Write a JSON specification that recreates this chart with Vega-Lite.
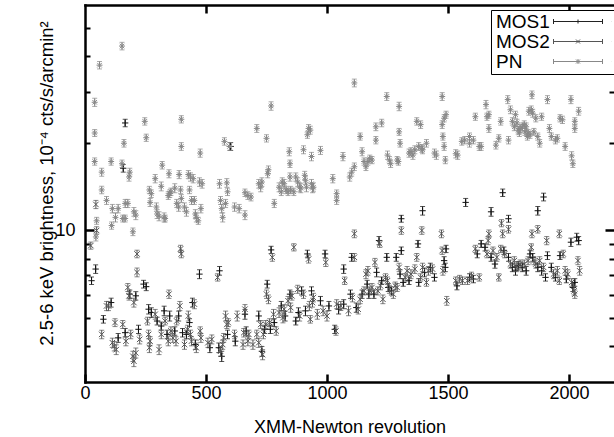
{
"$schema":"https://vega.github.io/schema/vega-lite/v6.json",
"width":529,"height":377,
"autosize":{"type":"none"},
"padding":{"left":85,"top":5,"right":0,"bottom":55},
"background":"white",
"config":{
 "view":{"stroke":null},
 "font":"Liberation Sans",
 "axis":{"grid":false,"labelFont":"Liberation Sans","labelFontSize":18,"labelColor":"black","titleFont":"Liberation Sans","titleFontSize":18,"titleFontWeight":"normal","titleColor":"black","tickColor":"black","domainColor":"black","domainWidth":2.5,"domainCap":"square","tickWidth":2,"labelFlush":false}
},
"data":{"values":[
{"s":"MOS1","x":27,"y":6.71,"e":0.2},{"s":"MOS1","x":44,"y":7.36,"e":0.25},{"s":"MOS1","x":166,"y":23.5,"e":0.7},{"s":"MOS1","x":158,"y":16.4,"e":0.5},{"s":"MOS1","x":602,"y":19.5,"e":0.6},{"s":"MOS1","x":76,"y":4.94,"e":0.15},{"s":"MOS1","x":108,"y":5.64,"e":0.2},{"s":"MOS1","x":137,"y":4.26,"e":0.15},{"s":"MOS1","x":166,"y":4.44,"e":0.15},{"s":"MOS1","x":185,"y":6.03,"e":0.2},{"s":"MOS1","x":210,"y":5.95,"e":0.2},{"s":"MOS1","x":221,"y":4.56,"e":0.15},{"s":"MOS1","x":242,"y":6.53,"e":0.2},{"s":"MOS1","x":253,"y":6.4,"e":0.2},{"s":"MOS1","x":263,"y":5.35,"e":0.2},{"s":"MOS1","x":274,"y":5.21,"e":0.2},{"s":"MOS1","x":298,"y":4.87,"e":0.15},{"s":"MOS1","x":315,"y":4.68,"e":0.15},{"s":"MOS1","x":327,"y":5.28,"e":0.2},{"s":"MOS1","x":339,"y":4.38,"e":0.15},{"s":"MOS1","x":350,"y":5.07,"e":0.2},{"s":"MOS1","x":371,"y":4.5,"e":0.15},{"s":"MOS1","x":387,"y":5.07,"e":0.2},{"s":"MOS1","x":403,"y":4.44,"e":0.15},{"s":"MOS1","x":419,"y":4.38,"e":0.15},{"s":"MOS1","x":432,"y":4.81,"e":0.15},{"s":"MOS1","x":444,"y":5.64,"e":0.2},{"s":"MOS1","x":456,"y":4.04,"e":0.15},{"s":"MOS1","x":473,"y":7.07,"e":0.25},{"s":"MOS1","x":516,"y":3.94,"e":0.15},{"s":"MOS1","x":553,"y":3.94,"e":0.15},{"s":"MOS1","x":556,"y":7.26,"e":0.25},{"s":"MOS1","x":565,"y":3.68,"e":0.15},{"s":"MOS1","x":589,"y":4.38,"e":0.15},{"s":"MOS1","x":621,"y":4.15,"e":0.15},{"s":"MOS1","x":661,"y":5.14,"e":0.2},{"s":"MOS1","x":666,"y":4.5,"e":0.15},{"s":"MOS1","x":718,"y":5.07,"e":0.2},{"s":"MOS1","x":731,"y":3.83,"e":0.15},{"s":"MOS1","x":742,"y":4.56,"e":0.15},{"s":"MOS1","x":753,"y":6.53,"e":0.2},{"s":"MOS1","x":766,"y":4.56,"e":0.15},{"s":"MOS1","x":769,"y":8.57,"e":0.25},{"s":"MOS1","x":782,"y":4.81,"e":0.15},{"s":"MOS1","x":811,"y":5.49,"e":0.2},{"s":"MOS1","x":827,"y":5.07,"e":0.2},{"s":"MOS1","x":847,"y":6.03,"e":0.2},{"s":"MOS1","x":871,"y":4.87,"e":0.15},{"s":"MOS1","x":882,"y":5.21,"e":0.2},{"s":"MOS1","x":895,"y":6.19,"e":0.2},{"s":"MOS1","x":911,"y":5.28,"e":0.2},{"s":"MOS1","x":919,"y":8.3,"e":0.25},{"s":"MOS1","x":936,"y":6.19,"e":0.2},{"s":"MOS1","x":973,"y":5.72,"e":0.2},{"s":"MOS1","x":992,"y":8.3,"e":0.25},{"s":"MOS1","x":1008,"y":5.49,"e":0.2},{"s":"MOS1","x":1032,"y":4.56,"e":0.15},{"s":"MOS1","x":1048,"y":5.35,"e":0.2},{"s":"MOS1","x":1069,"y":7.36,"e":0.25},{"s":"MOS1","x":1069,"y":5.57,"e":0.2},{"s":"MOS1","x":1097,"y":6.03,"e":0.2},{"s":"MOS1","x":1102,"y":8.08,"e":0.25},{"s":"MOS1","x":1121,"y":5.42,"e":0.2},{"s":"MOS1","x":1145,"y":6.03,"e":0.2},{"s":"MOS1","x":1166,"y":6.53,"e":0.2},{"s":"MOS1","x":1173,"y":6.03,"e":0.2},{"s":"MOS1","x":1194,"y":6.03,"e":0.2},{"s":"MOS1","x":1205,"y":7.17,"e":0.25},{"s":"MOS1","x":1215,"y":9.23,"e":0.3},{"s":"MOS1","x":1226,"y":6.71,"e":0.2},{"s":"MOS1","x":1247,"y":8.08,"e":0.25},{"s":"MOS1","x":1253,"y":6.36,"e":0.2},{"s":"MOS1","x":1266,"y":6.19,"e":0.2},{"s":"MOS1","x":1286,"y":8.08,"e":0.25},{"s":"MOS1","x":1302,"y":7.07,"e":0.25},{"s":"MOS1","x":1307,"y":8.52,"e":0.25},{"s":"MOS1","x":1307,"y":10.98,"e":0.3},{"s":"MOS1","x":1315,"y":6.62,"e":0.2},{"s":"MOS1","x":1339,"y":6.71,"e":0.2},{"s":"MOS1","x":1376,"y":8.99,"e":0.25},{"s":"MOS1","x":1379,"y":6.62,"e":0.2},{"s":"MOS1","x":1395,"y":11.7,"e":0.4},{"s":"MOS1","x":1403,"y":7.17,"e":0.25},{"s":"MOS1","x":1427,"y":7.46,"e":0.25},{"s":"MOS1","x":1444,"y":6.89,"e":0.2},{"s":"MOS1","x":1484,"y":7.87,"e":0.25},{"s":"MOS1","x":1489,"y":7.46,"e":0.25},{"s":"MOS1","x":1492,"y":8.64,"e":0.25},{"s":"MOS1","x":1537,"y":6.44,"e":0.2},{"s":"MOS1","x":1573,"y":12.5,"e":0.4},{"s":"MOS1","x":1589,"y":6.89,"e":0.2},{"s":"MOS1","x":1605,"y":6.8,"e":0.2},{"s":"MOS1","x":1621,"y":8.3,"e":0.25},{"s":"MOS1","x":1637,"y":8.99,"e":0.25},{"s":"MOS1","x":1653,"y":8.75,"e":0.25},{"s":"MOS1","x":1678,"y":11.6,"e":0.4},{"s":"MOS1","x":1678,"y":8.08,"e":0.25},{"s":"MOS1","x":1694,"y":7.66,"e":0.25},{"s":"MOS1","x":1726,"y":13.5,"e":0.4},{"s":"MOS1","x":1731,"y":8.52,"e":0.25},{"s":"MOS1","x":1750,"y":8.08,"e":0.25},{"s":"MOS1","x":1750,"y":10.98,"e":0.3},{"s":"MOS1","x":1766,"y":7.46,"e":0.25},{"s":"MOS1","x":1779,"y":7.26,"e":0.25},{"s":"MOS1","x":1790,"y":7.56,"e":0.25},{"s":"MOS1","x":1807,"y":7.46,"e":0.25},{"s":"MOS1","x":1823,"y":7.26,"e":0.25},{"s":"MOS1","x":1839,"y":8.3,"e":0.25},{"s":"MOS1","x":1850,"y":8.08,"e":0.25},{"s":"MOS1","x":1871,"y":7.46,"e":0.25},{"s":"MOS1","x":1871,"y":11.7,"e":0.4},{"s":"MOS1","x":1887,"y":7.26,"e":0.25},{"s":"MOS1","x":1895,"y":13.05,"e":0.4},{"s":"MOS1","x":1903,"y":6.89,"e":0.2},{"s":"MOS1","x":1911,"y":8.19,"e":0.25},{"s":"MOS1","x":1927,"y":7.46,"e":0.25},{"s":"MOS1","x":1944,"y":6.89,"e":0.2},{"s":"MOS1","x":1963,"y":8.19,"e":0.25},{"s":"MOS1","x":1989,"y":6.8,"e":0.2},{"s":"MOS1","x":2008,"y":9.11,"e":0.3},{"s":"MOS1","x":2016,"y":6.36,"e":0.2},{"s":"MOS1","x":2024,"y":6.62,"e":0.2},{"s":"MOS1","x":2032,"y":9.48,"e":0.3},{"s":"MOS1","x":2040,"y":9.23,"e":0.3},
{"s":"MOS2","x":24,"y":8.87,"e":0.25},{"s":"MOS2","x":45,"y":12.3,"e":0.4},{"s":"MOS2","x":48,"y":10.0,"e":0.3},{"s":"MOS2","x":69,"y":4.38,"e":0.15},{"s":"MOS2","x":89,"y":5.49,"e":0.2},{"s":"MOS2","x":97,"y":5.49,"e":0.2},{"s":"MOS2","x":113,"y":4.1,"e":0.15},{"s":"MOS2","x":121,"y":3.99,"e":0.15},{"s":"MOS2","x":124,"y":4.81,"e":0.15},{"s":"MOS2","x":129,"y":3.88,"e":0.15},{"s":"MOS2","x":156,"y":4.74,"e":0.15},{"s":"MOS2","x":169,"y":4.15,"e":0.15},{"s":"MOS2","x":177,"y":6.36,"e":0.2},{"s":"MOS2","x":182,"y":5.95,"e":0.2},{"s":"MOS2","x":189,"y":4.38,"e":0.15},{"s":"MOS2","x":198,"y":3.68,"e":0.15},{"s":"MOS2","x":202,"y":3.54,"e":0.15},{"s":"MOS2","x":210,"y":3.78,"e":0.15},{"s":"MOS2","x":202,"y":5.64,"e":0.2},{"s":"MOS2","x":215,"y":8.3,"e":0.25},{"s":"MOS2","x":215,"y":7.17,"e":0.25},{"s":"MOS2","x":226,"y":4.21,"e":0.15},{"s":"MOS2","x":258,"y":4.87,"e":0.15},{"s":"MOS2","x":263,"y":4.38,"e":0.15},{"s":"MOS2","x":266,"y":3.94,"e":0.15},{"s":"MOS2","x":269,"y":4.15,"e":0.15},{"s":"MOS2","x":290,"y":5.14,"e":0.2},{"s":"MOS2","x":306,"y":3.88,"e":0.15},{"s":"MOS2","x":315,"y":4.38,"e":0.15},{"s":"MOS2","x":331,"y":4.87,"e":0.15},{"s":"MOS2","x":344,"y":4.15,"e":0.15},{"s":"MOS2","x":347,"y":6.03,"e":0.2},{"s":"MOS2","x":355,"y":4.5,"e":0.15},{"s":"MOS2","x":363,"y":4.26,"e":0.15},{"s":"MOS2","x":376,"y":4.15,"e":0.15},{"s":"MOS2","x":379,"y":4.87,"e":0.15},{"s":"MOS2","x":392,"y":5.49,"e":0.2},{"s":"MOS2","x":395,"y":8.64,"e":0.25},{"s":"MOS2","x":398,"y":8.3,"e":0.25},{"s":"MOS2","x":411,"y":4.04,"e":0.15},{"s":"MOS2","x":424,"y":4.56,"e":0.15},{"s":"MOS2","x":427,"y":5.07,"e":0.2},{"s":"MOS2","x":436,"y":4.38,"e":0.15},{"s":"MOS2","x":440,"y":4.15,"e":0.15},{"s":"MOS2","x":452,"y":5.57,"e":0.2},{"s":"MOS2","x":460,"y":3.94,"e":0.15},{"s":"MOS2","x":476,"y":4.5,"e":0.15},{"s":"MOS2","x":479,"y":4.26,"e":0.15},{"s":"MOS2","x":508,"y":4.1,"e":0.15},{"s":"MOS2","x":524,"y":4.21,"e":0.15},{"s":"MOS2","x":548,"y":6.89,"e":0.2},{"s":"MOS2","x":560,"y":3.83,"e":0.15},{"s":"MOS2","x":569,"y":4.04,"e":0.15},{"s":"MOS2","x":573,"y":4.26,"e":0.15},{"s":"MOS2","x":581,"y":5.07,"e":0.2},{"s":"MOS2","x":586,"y":4.74,"e":0.15},{"s":"MOS2","x":592,"y":4.81,"e":0.15},{"s":"MOS2","x":618,"y":4.38,"e":0.15},{"s":"MOS2","x":629,"y":5.07,"e":0.2},{"s":"MOS2","x":653,"y":4.04,"e":0.15},{"s":"MOS2","x":656,"y":4.44,"e":0.15},{"s":"MOS2","x":661,"y":5.35,"e":0.2},{"s":"MOS2","x":673,"y":4.15,"e":0.15},{"s":"MOS2","x":677,"y":4.38,"e":0.15},{"s":"MOS2","x":694,"y":4.04,"e":0.15},{"s":"MOS2","x":710,"y":4.38,"e":0.15},{"s":"MOS2","x":718,"y":4.1,"e":0.15},{"s":"MOS2","x":726,"y":4.74,"e":0.15},{"s":"MOS2","x":734,"y":3.73,"e":0.15},{"s":"MOS2","x":737,"y":4.38,"e":0.15},{"s":"MOS2","x":747,"y":4.74,"e":0.15},{"s":"MOS2","x":750,"y":6.03,"e":0.2},{"s":"MOS2","x":758,"y":5.79,"e":0.2},{"s":"MOS2","x":763,"y":4.81,"e":0.15},{"s":"MOS2","x":774,"y":8.08,"e":0.25},{"s":"MOS2","x":779,"y":5.14,"e":0.2},{"s":"MOS2","x":790,"y":4.5,"e":0.15},{"s":"MOS2","x":802,"y":5.21,"e":0.2},{"s":"MOS2","x":818,"y":5.0,"e":0.2},{"s":"MOS2","x":823,"y":5.35,"e":0.2},{"s":"MOS2","x":839,"y":5.72,"e":0.2},{"s":"MOS2","x":850,"y":5.42,"e":0.2},{"s":"MOS2","x":855,"y":5.95,"e":0.2},{"s":"MOS2","x":863,"y":8.75,"e":0.25},{"s":"MOS2","x":879,"y":6.27,"e":0.2},{"s":"MOS2","x":887,"y":5.07,"e":0.2},{"s":"MOS2","x":903,"y":6.03,"e":0.2},{"s":"MOS2","x":924,"y":7.97,"e":0.25},{"s":"MOS2","x":927,"y":5.49,"e":0.2},{"s":"MOS2","x":931,"y":4.94,"e":0.15},{"s":"MOS2","x":940,"y":5.64,"e":0.2},{"s":"MOS2","x":944,"y":5.87,"e":0.2},{"s":"MOS2","x":960,"y":5.14,"e":0.2},{"s":"MOS2","x":984,"y":5.28,"e":0.2},{"s":"MOS2","x":995,"y":7.76,"e":0.25},{"s":"MOS2","x":1000,"y":5.07,"e":0.2},{"s":"MOS2","x":1037,"y":4.5,"e":0.15},{"s":"MOS2","x":1040,"y":5.57,"e":0.2},{"s":"MOS2","x":1057,"y":5.49,"e":0.2},{"s":"MOS2","x":1073,"y":6.71,"e":0.2},{"s":"MOS2","x":1089,"y":5.28,"e":0.2},{"s":"MOS2","x":1105,"y":5.87,"e":0.2},{"s":"MOS2","x":1113,"y":8.08,"e":0.25},{"s":"MOS2","x":1113,"y":9.74,"e":0.3},{"s":"MOS2","x":1129,"y":5.35,"e":0.2},{"s":"MOS2","x":1137,"y":5.79,"e":0.2},{"s":"MOS2","x":1153,"y":6.19,"e":0.2},{"s":"MOS2","x":1161,"y":7.07,"e":0.25},{"s":"MOS2","x":1169,"y":7.26,"e":0.25},{"s":"MOS2","x":1177,"y":6.19,"e":0.2},{"s":"MOS2","x":1186,"y":6.36,"e":0.2},{"s":"MOS2","x":1198,"y":7.76,"e":0.25},{"s":"MOS2","x":1210,"y":6.19,"e":0.2},{"s":"MOS2","x":1218,"y":8.99,"e":0.25},{"s":"MOS2","x":1221,"y":6.44,"e":0.2},{"s":"MOS2","x":1231,"y":5.79,"e":0.2},{"s":"MOS2","x":1242,"y":6.89,"e":0.2},{"s":"MOS2","x":1250,"y":6.71,"e":0.2},{"s":"MOS2","x":1258,"y":6.27,"e":0.2},{"s":"MOS2","x":1274,"y":6.03,"e":0.2},{"s":"MOS2","x":1282,"y":6.44,"e":0.2},{"s":"MOS2","x":1290,"y":6.36,"e":0.2},{"s":"MOS2","x":1298,"y":7.46,"e":0.25},{"s":"MOS2","x":1307,"y":10.0,"e":0.3},{"s":"MOS2","x":1323,"y":6.89,"e":0.2},{"s":"MOS2","x":1331,"y":7.26,"e":0.25},{"s":"MOS2","x":1347,"y":7.07,"e":0.25},{"s":"MOS2","x":1363,"y":7.36,"e":0.25},{"s":"MOS2","x":1371,"y":8.08,"e":0.25},{"s":"MOS2","x":1387,"y":6.89,"e":0.2},{"s":"MOS2","x":1392,"y":10.0,"e":0.3},{"s":"MOS2","x":1395,"y":7.46,"e":0.25},{"s":"MOS2","x":1411,"y":6.62,"e":0.2},{"s":"MOS2","x":1419,"y":7.26,"e":0.25},{"s":"MOS2","x":1436,"y":7.36,"e":0.25},{"s":"MOS2","x":1473,"y":9.74,"e":0.3},{"s":"MOS2","x":1476,"y":8.52,"e":0.25},{"s":"MOS2","x":1479,"y":7.26,"e":0.25},{"s":"MOS2","x":1495,"y":5.72,"e":0.2},{"s":"MOS2","x":1532,"y":6.71,"e":0.2},{"s":"MOS2","x":1548,"y":6.8,"e":0.2},{"s":"MOS2","x":1560,"y":6.71,"e":0.2},{"s":"MOS2","x":1581,"y":6.71,"e":0.2},{"s":"MOS2","x":1597,"y":6.98,"e":0.2},{"s":"MOS2","x":1613,"y":8.64,"e":0.25},{"s":"MOS2","x":1629,"y":6.89,"e":0.2},{"s":"MOS2","x":1661,"y":8.3,"e":0.25},{"s":"MOS2","x":1666,"y":9.23,"e":0.3},{"s":"MOS2","x":1669,"y":9.74,"e":0.3},{"s":"MOS2","x":1686,"y":8.52,"e":0.25},{"s":"MOS2","x":1702,"y":8.08,"e":0.25},{"s":"MOS2","x":1710,"y":6.89,"e":0.2},{"s":"MOS2","x":1718,"y":8.64,"e":0.25},{"s":"MOS2","x":1721,"y":10.6,"e":0.3},{"s":"MOS2","x":1726,"y":9.74,"e":0.3},{"s":"MOS2","x":1734,"y":8.3,"e":0.25},{"s":"MOS2","x":1750,"y":10.1,"e":0.3},{"s":"MOS2","x":1758,"y":7.66,"e":0.25},{"s":"MOS2","x":1774,"y":7.87,"e":0.25},{"s":"MOS2","x":1782,"y":7.46,"e":0.25},{"s":"MOS2","x":1798,"y":7.66,"e":0.25},{"s":"MOS2","x":1815,"y":7.66,"e":0.25},{"s":"MOS2","x":1831,"y":7.87,"e":0.25},{"s":"MOS2","x":1844,"y":8.75,"e":0.25},{"s":"MOS2","x":1847,"y":9.74,"e":0.3},{"s":"MOS2","x":1855,"y":7.87,"e":0.25},{"s":"MOS2","x":1863,"y":7.66,"e":0.25},{"s":"MOS2","x":1871,"y":10.1,"e":0.3},{"s":"MOS2","x":1879,"y":7.87,"e":0.25},{"s":"MOS2","x":1895,"y":7.46,"e":0.25},{"s":"MOS2","x":1908,"y":9.23,"e":0.3},{"s":"MOS2","x":1936,"y":7.07,"e":0.25},{"s":"MOS2","x":1952,"y":7.26,"e":0.25},{"s":"MOS2","x":1960,"y":6.71,"e":0.2},{"s":"MOS2","x":1960,"y":9.74,"e":0.3},{"s":"MOS2","x":1976,"y":8.3,"e":0.25},{"s":"MOS2","x":1984,"y":7.26,"e":0.25},{"s":"MOS2","x":1995,"y":7.07,"e":0.25},{"s":"MOS2","x":2011,"y":6.62,"e":0.2},{"s":"MOS2","x":2021,"y":6.19,"e":0.2},{"s":"MOS2","x":2024,"y":6.03,"e":0.2},{"s":"MOS2","x":2037,"y":7.87,"e":0.25},{"s":"MOS2","x":2044,"y":7.26,"e":0.25},
{"s":"PN","x":153,"y":43.3,"e":1.3},{"s":"PN","x":60,"y":37.2,"e":1.1},{"s":"PN","x":40,"y":27.7,"e":0.9},{"s":"PN","x":40,"y":21.7,"e":0.6},{"s":"PN","x":40,"y":17.3,"e":0.5},{"s":"PN","x":69,"y":15.9,"e":0.5},{"s":"PN","x":69,"y":13.8,"e":0.4},{"s":"PN","x":48,"y":10.8,"e":0.3},{"s":"PN","x":45,"y":9.5,"e":0.3},{"s":"PN","x":108,"y":17.3,"e":0.5},{"s":"PN","x":89,"y":12.7,"e":0.4},{"s":"PN","x":113,"y":11.9,"e":0.4},{"s":"PN","x":126,"y":11.1,"e":0.4},{"s":"PN","x":110,"y":10.4,"e":0.3},{"s":"PN","x":137,"y":11.9,"e":0.4},{"s":"PN","x":153,"y":17.0,"e":0.5},{"s":"PN","x":161,"y":20.0,"e":0.6},{"s":"PN","x":166,"y":12.4,"e":0.4},{"s":"PN","x":156,"y":11.0,"e":0.3},{"s":"PN","x":166,"y":11.0,"e":0.3},{"s":"PN","x":177,"y":12.4,"e":0.4},{"s":"PN","x":185,"y":15.9,"e":0.5},{"s":"PN","x":182,"y":15.3,"e":0.5},{"s":"PN","x":202,"y":11.6,"e":0.4},{"s":"PN","x":210,"y":11.3,"e":0.4},{"s":"PN","x":198,"y":9.9,"e":0.3},{"s":"PN","x":247,"y":23.8,"e":0.7},{"s":"PN","x":253,"y":20.9,"e":0.6},{"s":"PN","x":266,"y":13.8,"e":0.4},{"s":"PN","x":269,"y":12.5,"e":0.4},{"s":"PN","x":274,"y":13.4,"e":0.4},{"s":"PN","x":290,"y":15.1,"e":0.5},{"s":"PN","x":295,"y":12.05,"e":0.4},{"s":"PN","x":298,"y":11.4,"e":0.4},{"s":"PN","x":306,"y":11.2,"e":0.4},{"s":"PN","x":315,"y":14.2,"e":0.5},{"s":"PN","x":319,"y":16.8,"e":0.5},{"s":"PN","x":327,"y":11.1,"e":0.4},{"s":"PN","x":331,"y":11.0,"e":0.3},{"s":"PN","x":347,"y":15.7,"e":0.5},{"s":"PN","x":344,"y":13.2,"e":0.4},{"s":"PN","x":350,"y":13.4,"e":0.4},{"s":"PN","x":355,"y":13.6,"e":0.4},{"s":"PN","x":371,"y":14.0,"e":0.5},{"s":"PN","x":379,"y":12.4,"e":0.4},{"s":"PN","x":387,"y":12.05,"e":0.4},{"s":"PN","x":389,"y":15.6,"e":0.5},{"s":"PN","x":395,"y":13.8,"e":0.4},{"s":"PN","x":398,"y":12.9,"e":0.4},{"s":"PN","x":398,"y":19.5,"e":0.6},{"s":"PN","x":398,"y":24.2,"e":0.7},{"s":"PN","x":411,"y":12.05,"e":0.4},{"s":"PN","x":419,"y":11.6,"e":0.4},{"s":"PN","x":427,"y":15.6,"e":0.5},{"s":"PN","x":432,"y":13.8,"e":0.4},{"s":"PN","x":436,"y":15.3,"e":0.5},{"s":"PN","x":440,"y":12.7,"e":0.4},{"s":"PN","x":447,"y":15.1,"e":0.5},{"s":"PN","x":452,"y":12.7,"e":0.4},{"s":"PN","x":456,"y":11.4,"e":0.4},{"s":"PN","x":460,"y":11.1,"e":0.4},{"s":"PN","x":468,"y":10.8,"e":0.3},{"s":"PN","x":473,"y":14.7,"e":0.5},{"s":"PN","x":476,"y":18.5,"e":0.6},{"s":"PN","x":479,"y":11.9,"e":0.4},{"s":"PN","x":484,"y":14.5,"e":0.5},{"s":"PN","x":556,"y":14.5,"e":0.5},{"s":"PN","x":560,"y":12.7,"e":0.4},{"s":"PN","x":565,"y":11.9,"e":0.4},{"s":"PN","x":569,"y":11.1,"e":0.4},{"s":"PN","x":581,"y":12.4,"e":0.4},{"s":"PN","x":586,"y":14.6,"e":0.5},{"s":"PN","x":589,"y":13.6,"e":0.4},{"s":"PN","x":576,"y":20.3,"e":0.6},{"s":"PN","x":597,"y":19.5,"e":0.6},{"s":"PN","x":618,"y":12.05,"e":0.4},{"s":"PN","x":637,"y":11.9,"e":0.4},{"s":"PN","x":661,"y":13.5,"e":0.4},{"s":"PN","x":661,"y":11.3,"e":0.4},{"s":"PN","x":673,"y":13.2,"e":0.4},{"s":"PN","x":686,"y":13.05,"e":0.4},{"s":"PN","x":710,"y":22.5,"e":0.7},{"s":"PN","x":718,"y":14.5,"e":0.5},{"s":"PN","x":726,"y":14.1,"e":0.5},{"s":"PN","x":731,"y":14.7,"e":0.5},{"s":"PN","x":750,"y":20.8,"e":0.6},{"s":"PN","x":755,"y":15.7,"e":0.5},{"s":"PN","x":758,"y":16.2,"e":0.5},{"s":"PN","x":769,"y":26.9,"e":0.9},{"s":"PN","x":782,"y":12.4,"e":0.4},{"s":"PN","x":802,"y":14.1,"e":0.5},{"s":"PN","x":811,"y":13.6,"e":0.4},{"s":"PN","x":815,"y":14.7,"e":0.5},{"s":"PN","x":823,"y":14.5,"e":0.5},{"s":"PN","x":831,"y":13.8,"e":0.4},{"s":"PN","x":839,"y":13.6,"e":0.4},{"s":"PN","x":844,"y":18.7,"e":0.6},{"s":"PN","x":847,"y":17.0,"e":0.5},{"s":"PN","x":847,"y":15.3,"e":0.5},{"s":"PN","x":850,"y":13.8,"e":0.4},{"s":"PN","x":863,"y":13.6,"e":0.4},{"s":"PN","x":871,"y":15.3,"e":0.5},{"s":"PN","x":879,"y":14.7,"e":0.5},{"s":"PN","x":887,"y":14.1,"e":0.5},{"s":"PN","x":892,"y":14.0,"e":0.5},{"s":"PN","x":903,"y":19.0,"e":0.6},{"s":"PN","x":908,"y":15.5,"e":0.5},{"s":"PN","x":911,"y":14.9,"e":0.5},{"s":"PN","x":915,"y":14.1,"e":0.5},{"s":"PN","x":919,"y":21.4,"e":0.6},{"s":"PN","x":924,"y":22.5,"e":0.7},{"s":"PN","x":931,"y":22.2,"e":0.7},{"s":"PN","x":936,"y":18.0,"e":0.6},{"s":"PN","x":936,"y":14.5,"e":0.5},{"s":"PN","x":940,"y":14.0,"e":0.5},{"s":"PN","x":944,"y":14.1,"e":0.5},{"s":"PN","x":973,"y":18.9,"e":0.6},{"s":"PN","x":1024,"y":15.1,"e":0.5},{"s":"PN","x":1040,"y":13.4,"e":0.4},{"s":"PN","x":1040,"y":12.7,"e":0.4},{"s":"PN","x":1066,"y":18.0,"e":0.6},{"s":"PN","x":1094,"y":15.3,"e":0.5},{"s":"PN","x":1102,"y":15.9,"e":0.5},{"s":"PN","x":1113,"y":16.6,"e":0.5},{"s":"PN","x":1113,"y":32.3,"e":1.0},{"s":"PN","x":1137,"y":21.1,"e":0.6},{"s":"PN","x":1145,"y":18.7,"e":0.6},{"s":"PN","x":1153,"y":17.3,"e":0.5},{"s":"PN","x":1161,"y":16.6,"e":0.5},{"s":"PN","x":1169,"y":17.3,"e":0.5},{"s":"PN","x":1177,"y":17.7,"e":0.5},{"s":"PN","x":1186,"y":17.5,"e":0.5},{"s":"PN","x":1202,"y":22.8,"e":0.7},{"s":"PN","x":1202,"y":20.5,"e":0.6},{"s":"PN","x":1226,"y":23.5,"e":0.7},{"s":"PN","x":1247,"y":29.0,"e":0.9},{"s":"PN","x":1250,"y":18.2,"e":0.6},{"s":"PN","x":1258,"y":17.5,"e":0.5},{"s":"PN","x":1263,"y":17.0,"e":0.5},{"s":"PN","x":1290,"y":17.5,"e":0.5},{"s":"PN","x":1295,"y":17.3,"e":0.5},{"s":"PN","x":1298,"y":26.8,"e":0.9},{"s":"PN","x":1298,"y":21.9,"e":0.6},{"s":"PN","x":1302,"y":20.0,"e":0.6},{"s":"PN","x":1339,"y":18.5,"e":0.6},{"s":"PN","x":1347,"y":18.7,"e":0.6},{"s":"PN","x":1355,"y":18.2,"e":0.6},{"s":"PN","x":1363,"y":19.0,"e":0.6},{"s":"PN","x":1371,"y":23.8,"e":0.7},{"s":"PN","x":1379,"y":19.5,"e":0.6},{"s":"PN","x":1387,"y":23.2,"e":0.7},{"s":"PN","x":1392,"y":19.2,"e":0.6},{"s":"PN","x":1395,"y":19.0,"e":0.6},{"s":"PN","x":1411,"y":20.0,"e":0.6},{"s":"PN","x":1444,"y":18.5,"e":0.6},{"s":"PN","x":1452,"y":18.2,"e":0.6},{"s":"PN","x":1476,"y":29.0,"e":0.9},{"s":"PN","x":1476,"y":23.2,"e":0.7},{"s":"PN","x":1479,"y":21.1,"e":0.6},{"s":"PN","x":1484,"y":24.4,"e":0.7},{"s":"PN","x":1484,"y":19.5,"e":0.6},{"s":"PN","x":1489,"y":17.5,"e":0.5},{"s":"PN","x":1492,"y":25.1,"e":0.7},{"s":"PN","x":1532,"y":18.4,"e":0.6},{"s":"PN","x":1540,"y":18.2,"e":0.6},{"s":"PN","x":1557,"y":20.3,"e":0.6},{"s":"PN","x":1569,"y":20.5,"e":0.6},{"s":"PN","x":1589,"y":21.1,"e":0.6},{"s":"PN","x":1589,"y":20.0,"e":0.6},{"s":"PN","x":1605,"y":20.5,"e":0.6},{"s":"PN","x":1613,"y":24.7,"e":0.7},{"s":"PN","x":1629,"y":19.5,"e":0.6},{"s":"PN","x":1637,"y":19.5,"e":0.6},{"s":"PN","x":1657,"y":27.2,"e":0.9},{"s":"PN","x":1661,"y":24.7,"e":0.7},{"s":"PN","x":1669,"y":22.5,"e":0.7},{"s":"PN","x":1669,"y":25.1,"e":0.7},{"s":"PN","x":1698,"y":19.7,"e":0.6},{"s":"PN","x":1710,"y":20.8,"e":0.6},{"s":"PN","x":1718,"y":23.8,"e":0.7},{"s":"PN","x":1747,"y":28.3,"e":0.9},{"s":"PN","x":1750,"y":20.5,"e":0.6},{"s":"PN","x":1758,"y":26.1,"e":0.8},{"s":"PN","x":1766,"y":23.8,"e":0.7},{"s":"PN","x":1774,"y":22.8,"e":0.7},{"s":"PN","x":1779,"y":25.1,"e":0.7},{"s":"PN","x":1785,"y":23.5,"e":0.7},{"s":"PN","x":1790,"y":22.2,"e":0.7},{"s":"PN","x":1795,"y":21.7,"e":0.6},{"s":"PN","x":1798,"y":22.5,"e":0.7},{"s":"PN","x":1807,"y":22.8,"e":0.7},{"s":"PN","x":1815,"y":23.2,"e":0.7},{"s":"PN","x":1818,"y":21.9,"e":0.6},{"s":"PN","x":1823,"y":22.8,"e":0.7},{"s":"PN","x":1828,"y":21.1,"e":0.6},{"s":"PN","x":1831,"y":21.7,"e":0.6},{"s":"PN","x":1834,"y":25.8,"e":0.8},{"s":"PN","x":1839,"y":21.4,"e":0.6},{"s":"PN","x":1844,"y":26.1,"e":0.8},{"s":"PN","x":1847,"y":29.4,"e":0.9},{"s":"PN","x":1850,"y":25.4,"e":0.8},{"s":"PN","x":1855,"y":21.9,"e":0.6},{"s":"PN","x":1863,"y":24.4,"e":0.7},{"s":"PN","x":1871,"y":21.1,"e":0.6},{"s":"PN","x":1879,"y":20.0,"e":0.6},{"s":"PN","x":1887,"y":24.7,"e":0.7},{"s":"PN","x":1911,"y":28.3,"e":0.9},{"s":"PN","x":1919,"y":22.5,"e":0.7},{"s":"PN","x":1927,"y":21.1,"e":0.6},{"s":"PN","x":1944,"y":20.5,"e":0.6},{"s":"PN","x":1952,"y":20.8,"e":0.6},{"s":"PN","x":1963,"y":24.4,"e":0.7},{"s":"PN","x":1973,"y":24.1,"e":0.7},{"s":"PN","x":1984,"y":19.5,"e":0.6},{"s":"PN","x":2008,"y":28.3,"e":0.9},{"s":"PN","x":2011,"y":18.1,"e":0.6},{"s":"PN","x":2016,"y":17.0,"e":0.5},{"s":"PN","x":2024,"y":23.8,"e":0.7},{"s":"PN","x":2024,"y":22.5,"e":0.7},{"s":"PN","x":2040,"y":25.8,"e":0.8}
]},
"resolve":{"axis":{"x":"independent","y":"independent"}},
"layer":[
 {"transform":[{"filter":{"field":"s","equal":"MOS1"}}],
  "mark":{"type":"errorbar","ticks":{"size":5,"thickness":1,"color":"#111111"},"rule":{"strokeWidth":1,"color":"#111111"}},
  "encoding":{"x":{"field":"x","type":"quantitative","scale":{"domain":[0,2186],"nice":false,"zero":false},"axis":null},
   "y":{"field":"y","type":"quantitative","scale":{"type":"log","domain":[3,60],"nice":false},"axis":null},
   "yError":{"field":"e"}}},
 {"transform":[{"filter":{"field":"s","equal":"MOS1"}}],
  "mark":{"type":"point","shape":"M-1,0H1M0,-1V1","size":40,"filled":false,"strokeWidth":1,"color":"#111111","opacity":1},
  "encoding":{"x":{"field":"x","type":"quantitative","scale":{"domain":[0,2186],"nice":false,"zero":false},
    "axis":{"orient":"bottom","values":[0,500,1000,1500,2000],"format":"d","tickSize":-8,"tickWidth":2.5,"labelPadding":10,"domain":true,"title":"XMM-Newton revolution","titleY":50,"titleBaseline":"alphabetic"}},
   "y":{"field":"y","type":"quantitative","scale":{"type":"log","domain":[3,60],"nice":false},
    "axis":{"orient":"left","values":[10],"format":"d","tickSize":-9,"tickWidth":2.5,"labelPadding":19,"domain":true,"title":"2.5-6 keV brightness, 10⁻⁴  cts/s/arcmin²","titleFontSize":18.5,"titleAngle":270,"titleX":-33,"titleY":178,"titleBaseline":"alphabetic","titleAlign":"center"}}}},
 {"transform":[{"filter":{"field":"s","equal":"MOS2"}}],
  "mark":{"type":"errorbar","ticks":{"size":5,"thickness":1,"color":"#555555"},"rule":{"strokeWidth":1,"color":"#555555"}},
  "encoding":{"x":{"field":"x","type":"quantitative","scale":{"domain":[0,2186],"nice":false,"zero":false},"axis":null},
   "y":{"field":"y","type":"quantitative","scale":{"type":"log","domain":[3,60],"nice":false},"axis":null},
   "yError":{"field":"e"}}},
 {"transform":[{"filter":{"field":"s","equal":"MOS2"}}],
  "mark":{"type":"point","shape":"M-1,-1L1,1M-1,1L1,-1","size":30,"filled":false,"strokeWidth":1,"color":"#555555","opacity":1},
  "encoding":{"x":{"field":"x","type":"quantitative","scale":{"domain":[0,2186],"nice":false,"zero":false},
    "axis":{"orient":"top","values":[500,1000,1500,2000],"tickSize":-8,"tickWidth":2.5,"labels":false,"domain":true,"title":null}},
   "y":{"field":"y","type":"quantitative","scale":{"type":"log","domain":[3,60],"nice":false},
    "axis":{"orient":"left","values":[4,5,6,7,8,9,20,30,40,50],"tickSize":-5,"labels":false,"domain":false,"title":null}}}},
 {"transform":[{"filter":{"field":"s","equal":"PN"}}],
  "mark":{"type":"errorbar","ticks":{"size":5,"thickness":1,"color":"#888888"},"rule":{"strokeWidth":1,"color":"#888888"}},
  "encoding":{"x":{"field":"x","type":"quantitative","scale":{"domain":[0,2186],"nice":false,"zero":false},"axis":null},
   "y":{"field":"y","type":"quantitative","scale":{"type":"log","domain":[3,60],"nice":false},"axis":null},
   "yError":{"field":"e"}}},
 {"transform":[{"filter":{"field":"s","equal":"PN"}}],
  "mark":{"type":"point","shape":"M-1,0H1M0,-1V1M-0.75,-0.75L0.75,0.75M-0.75,0.75L0.75,-0.75","size":36,"filled":false,"strokeWidth":1,"color":"#888888","opacity":1},
  "encoding":{"x":{"field":"x","type":"quantitative","scale":{"domain":[0,2186],"nice":false,"zero":false},"axis":null},
   "y":{"field":"y","type":"quantitative","scale":{"type":"log","domain":[3,60],"nice":false},
    "axis":{"orient":"right","values":[10],"tickSize":-9,"tickWidth":2.5,"labels":false,"domain":false,"title":null}}}},
 {"transform":[{"filter":{"field":"s","equal":"none"}}],
  "mark":{"type":"point","filled":false,"strokeWidth":1,"opacity":1},
  "encoding":{"x":{"field":"x","type":"quantitative","scale":{"domain":[0,2186],"nice":false,"zero":false},"axis":null},
   "y":{"field":"y","type":"quantitative","scale":{"type":"log","domain":[3,60],"nice":false},
    "axis":{"orient":"right","values":[4,5,6,7,8,9,20,30,40,50],"tickSize":-5,"labels":false,"domain":false,"title":null}},
   "color":{"field":"s","type":"nominal","scale":{"domain":["MOS1","MOS2","PN"],"range":["#222222","#555555","#888888"]},
    "legend":{"orient":"none","legendX":406,"legendY":5,"title":null,"labelFont":"Liberation Sans","labelFontSize":19,"labelColor":"black","symbolSize":100,"symbolStrokeWidth":1,"symbolOffset":75.5,"labelOffset":-91.5,"padding":2,"rowPadding":0,"strokeColor":"black","fillColor":"white","cornerRadius":0}},
   "shape":{"field":"s","type":"nominal","scale":{"domain":["MOS1","MOS2","PN"],"range":["M-4.9,0H4.9M-4.9,-0.5V0.5M4.9,-0.5V0.5M0,-0.4V0.4M6.7,-0.01L6.7,0.01","M-4.9,0H4.9M-4.9,-0.5V0.5M4.9,-0.5V0.5M-0.4,-0.4L0.4,0.4M-0.4,0.4L0.4,-0.4M6.7,-0.01L6.7,0.01","M-4.9,0H4.9M-4.9,-0.5V0.5M4.9,-0.5V0.5M0,-0.5V0.5M-0.4,-0.4L0.4,0.4M-0.4,0.4L0.4,-0.4M6.7,-0.01L6.7,0.01"]},
    "legend":{"orient":"none","legendX":406,"legendY":5,"title":null,"labelFont":"Liberation Sans","labelFontSize":19,"labelColor":"black","symbolSize":100,"symbolStrokeWidth":1,"symbolOffset":75.5,"labelOffset":-91.5,"padding":2,"rowPadding":0,"strokeColor":"black","fillColor":"white","cornerRadius":0}}}}
]
}
